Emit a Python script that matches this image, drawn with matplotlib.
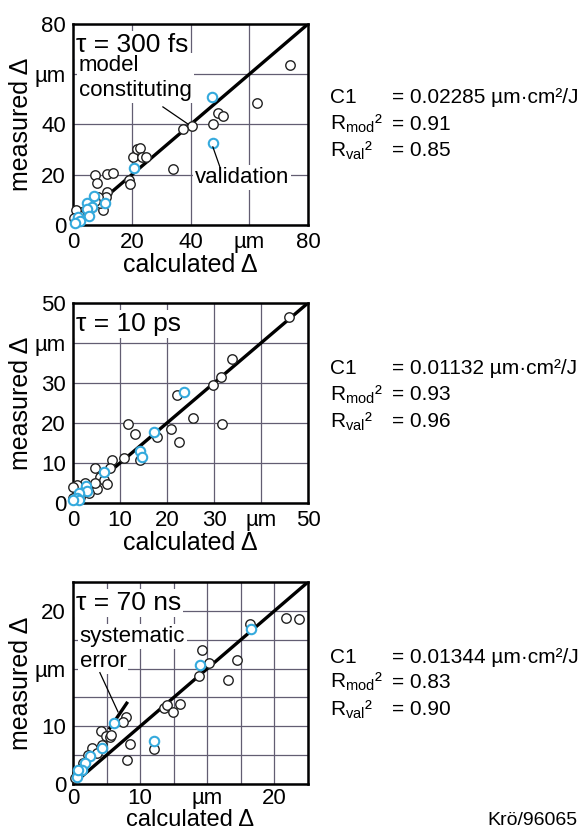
import matplotlib
matplotlib.use("Agg")
import matplotlib.pyplot as plt

plt.rcParams['font.family'] = ['Liberation Sans', 'DejaVu Sans']
plt.rcParams['mathtext.fontset'] = 'custom'
plt.rcParams['mathtext.rm'] = 'Liberation Sans'
plt.rcParams['mathtext.it'] = 'Liberation Sans:italic'

# ---- data ----
# tau = 300 fs
fs_mod_x = [73.8, 62.5, 49.4, 51.1, 47.7, 40.4, 37.3, 33.9, 20.5, 21.7, 22.8, 23.4, 25.0, 19.0, 19.4,
            7.5, 8.0, 11.5, 13.7, 11.5, 11.3, 10.3, 9.2, 8.6, 7.5, 6.4, 4.0, 3.0, 2.0, 1.0, 0.3]
fs_mod_y = [63.7, 48.7, 44.5, 43.4, 40.1, 39.4, 38.2, 22.3, 27.2, 30.3, 30.5, 27.2, 27.2, 17.9, 16.3,
            19.9, 16.6, 20.3, 20.6, 13.0, 11.3, 6.0, 8.6, 11.3, 9.7, 7.3, 5.5, 5.0, 4.0, 6.0, 2.6]
fs_val_x = [47.2, 47.5, 20.9, 7.3, 4.9, 6.4, 10.9, 4.9, 5.5, 1.8, 2.4, 0.7]
fs_val_y = [50.9, 32.5, 22.6, 11.6, 8.6, 7.0, 8.6, 6.2, 3.6, 3.3, 1.7, 0.9]

# tau = 10 ps
ps_mod_x = [46.0, 33.9, 31.4, 29.7, 31.6, 22.1, 25.5, 20.9, 22.6, 17.9, 11.6, 13.2, 14.3, 10.9,
            8.2, 7.9, 4.7, 5.7, 6.5, 7.3, 5.0, 4.7, 2.6, 3.3, 0.9, 0.1, 1.5, 0.1]
ps_mod_y = [46.4, 35.9, 31.4, 29.5, 19.75, 27.0, 21.3, 18.4, 15.3, 16.4, 19.75, 17.25, 10.75, 11.2,
            10.75, 8.7, 8.7, 6.6, 5.75, 4.7, 3.4, 4.9, 4.9, 2.4, 4.5, 4.1, 1.6, 1.2]
ps_val_x = [23.7, 17.2, 14.3, 14.6, 6.5, 2.8, 3.0, 1.35, 0.8, 1.35, 0.1]
ps_val_y = [27.7, 17.7, 13.1, 11.4, 7.8, 4.25, 3.1, 2.4, 1.2, 0.75, 0.7]

# tau = 70 ns (in grid units, labels as printed on the original)
ns_mod_x = [13.5, 14.0, 14.9, 15.9, 18.8, 19.2, 20.2, 23.1, 24.4, 26.3, 31.7, 33.6, 7.9, 7.4, 8.5,
            8.0, 12.0, 4.2, 4.9, 5.5, 5.7, 2.8, 3.5, 2.3, 1.5, 1.3, 0.6, 0.3, 4.3]
ns_mod_y = [13.1, 13.7, 12.5, 13.9, 18.8, 23.2, 20.9, 18.0, 21.5, 27.8, 28.7, 28.6, 11.6, 10.8, 7.0,
            4.2, 6.0, 9.1, 8.3, 8.2, 8.5, 6.3, 5.3, 5.0, 3.6, 2.7, 1.9, 1.0, 6.8]
ns_val_x = [26.5, 18.9, 12.1, 6.1, 4.3, 2.6, 1.8, 1.3, 0.6, 0.8]
ns_val_y = [26.9, 20.6, 7.5, 10.5, 6.3, 4.9, 3.6, 2.4, 1.3, 2.4]
sys_err_x = [5.5, 8.0]
sys_err_y = [9.7, 14.0]

taus = ['\u03c4 = 300 fs', '\u03c4 = 10 ps', '\u03c4 = 70 ns']
c1_vals = ['0.02285', '0.01132', '0.01344']
rmod_vals = ['0.91', '0.93', '0.83']
rval_vals = ['0.85', '0.96', '0.90']

lims = [80, 50, 35]
grid_steps = [20, 10, 5]
tick_labels = [['0', '20', '40', '\u00b5m', '80'],
               ['0', '10', '20', '30', '\u00b5m', '50'],
               ['0', '', '10', '', '\u00b5m', '', '20', '']]

blue = '#35aadd'
gridc = '#625d72'

fig = plt.figure(figsize=(5.79, 8.33), dpi=100)
boxes = [[0.1261, 0.7299, 0.4059, 0.2413],
         [0.1261, 0.3962, 0.4059, 0.2401],
         [0.1261, 0.0588, 0.4059, 0.2425]]
panels = [(fs_mod_x, fs_mod_y, fs_val_x, fs_val_y),
          (ps_mod_x, ps_mod_y, ps_val_x, ps_val_y),
          (ns_mod_x, ns_mod_y, ns_val_x, ns_val_y)]
text_y = [[0.883, 0.851, 0.819], [0.558, 0.526, 0.494], [0.211, 0.181, 0.148]]
white = dict(facecolor='white', edgecolor='none', pad=1.5)

axs = []
for i in range(3):
    ax = fig.add_axes(boxes[i])
    axs.append(ax)
    mx, my, vx, vy = panels[i]
    lim = lims[i]
    ticks = list(range(0, lim + 1, grid_steps[i]))
    ax.set_xlim(0, lim)
    ax.set_ylim(0, lim)
    ax.set_xticks(ticks, labels=tick_labels[i])
    ax.set_yticks(ticks, labels=tick_labels[i])
    ax.tick_params(length=0, labelsize=16, pad=5)
    if i == 2:
        ax.tick_params(axis='x', pad=3)
    ax.grid(True, color=gridc, lw=0.9, zorder=0)
    ax.set_axisbelow(True)
    for s in ax.spines.values():
        s.set_linewidth(1.8)
    ax.axline((0, 0), slope=1, color='black', lw=2.4, zorder=3)
    ax.plot(mx, my, 'o', ms=6.8, mfc='white', mec='#222222', mew=1.0, zorder=4, clip_on=False)
    ax.plot(vx, vy, 'o', ms=6.8, mfc='white', mec=blue, mew=1.5, zorder=5, clip_on=False)
    ax.set_xlabel('calculated \u0394', fontsize=(18 if i < 2 else 17), labelpad=0)
    ax.set_ylabel('measured \u0394', fontsize=18, labelpad=1)
    ax.text(0.012, 0.955, taus[i], transform=ax.transAxes, fontsize=19, va='top', ha='left',
            zorder=2.5, bbox=white)

    fig.text(0.57, text_y[i][0], 'C1', fontsize=15, va='center')
    fig.text(0.677, text_y[i][0], '= ' + c1_vals[i] + ' \u00b5m\u00b7cm\u00b2/J', fontsize=15, va='center')
    fig.text(0.57, text_y[i][1], r'R$_{\rm mod}$' + '\u00b2', fontsize=15, va='center')
    fig.text(0.677, text_y[i][1], '= ' + rmod_vals[i], fontsize=15, va='center')
    fig.text(0.57, text_y[i][2], r'R$_{\rm val}$' + '\u00b2', fontsize=15, va='center')
    fig.text(0.677, text_y[i][2], '= ' + rval_vals[i], fontsize=15, va='center')

# annotations
ax = axs[0]
ax.text(2.0, 67.5, 'model\nconstituting', fontsize=16, va='top', ha='left', linespacing=1.22,
        zorder=2.5, bbox=white)
ax.plot([30.6, 39.1], [47, 40.2], color='black', lw=0.9, zorder=6)
ax.text(41.5, 19, 'validation', fontsize=16, va='center', ha='left', zorder=2.5, bbox=white)
ax.plot([50, 47.6], [23.1, 31.1], color='black', lw=0.9, zorder=6)

ax = axs[2]
ax.text(1.0, 27.4, 'systematic', fontsize=16, va='top', ha='left', zorder=2.5, bbox=white)
ax.text(1.0, 23.0, 'error', fontsize=16, va='top', ha='left', zorder=2.5, bbox=white)
ax.plot(sys_err_x, sys_err_y, color='black', lw=2.4, zorder=3)
ax.plot([4.0, 6.7], [19.3, 12.5], color='black', lw=0.9, zorder=6)

fig.text(0.841, 0.0156, 'Kr\u00f6/96065', fontsize=14, va='center')

fig.savefig('out.png', dpi=100)
